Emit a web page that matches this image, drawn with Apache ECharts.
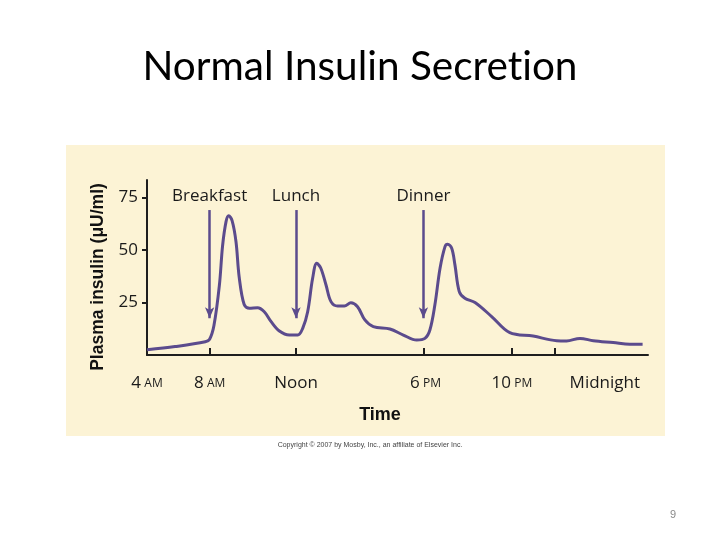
<!DOCTYPE html>
<html>
<head>
<meta charset="utf-8">
<script src="https://cdn.jsdelivr.net/npm/echarts@6/dist/echarts.min.js"></script>
<style>html,body{margin:0;padding:0;background:#fff;}#c{width:720px;height:540px;}</style>
</head>
<body>
<div id="c"></div>
<script>
// Time in hours of day (24+ = after midnight)
var timeHours = [5.1, 6.4, 7.8, 8.0, 8.2, 8.45, 8.6, 8.76, 8.88, 9.04, 9.22, 9.37, 9.6, 9.84, 10.22, 10.53, 10.84, 11.23, 11.69, 12.08, 12.31, 12.54, 12.77, 12.96, 13.15, 13.39, 13.62, 13.93, 14.24, 14.54, 14.85, 15.19, 15.58, 16.35, 16.97, 17.59, 17.97, 18.2, 18.43, 18.67, 18.9, 19.02, 19.21, 19.36, 19.56, 19.82, 20.29, 21.06, 21.9, 22.98, 24.07, 24.53, 25.15, 25.77, 26.69, 27.46, 28.05];
// Plasma insulin (µU/ml)
var insulin = [2.5, 4.0, 6.3, 7.5, 14, 33, 52, 63.5, 66.3, 64, 54, 37, 24, 22.2, 22.5, 20.6, 16, 11.4, 9.5, 9.5, 12.7, 20.6, 36.5, 43.7, 41.3, 33.3, 25.4, 23.3, 23.3, 24.9, 23, 16.7, 13.5, 12.4, 9.5, 7.1, 7.9, 11.9, 23.8, 41.3, 51.6, 52.7, 50.8, 42.9, 30.2, 27, 25, 18.3, 10.6, 9, 6.8, 6.7, 7.9, 6.8, 5.9, 5.1, 5.1];

// Axis tick positions / labels
var xTickValues = [8, 12, 17.9, 22, 24];
var xLabelValues = [5.1, 8, 12, 18, 22, 26.3];
var xLabelTexts = ['{n|4} {s|AM}', '{n|8} {s|AM}', '{n|Noon}', '{n|6} {s|PM}', '{n|10} {s|PM}', '{n|Midnight}'];
var yTickValues = [25, 50, 75];

// Meals (arrows)
var meals = ['Breakfast', 'Lunch', 'Dinner'];
var mealTimes = [8, 12, 17.9];
var arrowTop = 69;
var arrowTip = 17.5;

var purple = '#5b4b8d';
var dark = '#1e1e1e';

var chart = echarts.init(document.getElementById('c'), null, {renderer: 'canvas'});

var mealLines = mealTimes.map(function (t, i) {
  return [
    {coord: [t, arrowTop], symbol: 'none', label: {show: true, formatter: meals[i]}},
    {coord: [t, arrowTip], symbol: 'arrow', symbolSize: [7, 11]}
  ];
});

chart.setOption({
  animation: false,
  backgroundColor: '#ffffff',
  title: {
    text: 'Normal Insulin Secret\u200Cion',
    left: 'center',
    top: 41,
    textStyle: {fontFamily: 'Lato', fontWeight: 'normal', fontSize: 40.5, color: '#000'}
  },
  graphic: [
    {type: 'rect', z: -10, shape: {x: 66, y: 145, width: 599, height: 291}, style: {fill: '#fcf3d5'}},
    {type: 'text', x: 98, y: 277, rotation: Math.PI / 2,
      style: {text: 'Plasma insulin (\u03bcU/ml)', fontFamily: 'Liberation Sans', fontWeight: 'bold', fontSize: 17.5, fill: '#111', align: 'center', verticalAlign: 'middle'}},
    {type: 'text', x: 380, y: 415,
      style: {text: 'Time', fontFamily: 'Liberation Sans', fontWeight: 'bold', fontSize: 18, fill: '#111', align: 'center', verticalAlign: 'middle'}},
    {type: 'text', x: 370, y: 445,
      style: {text: 'Copyright \u00a9 2007 by Mosby, Inc., an affiliate of Elsevier Inc.', fontFamily: 'Liberation Sans', fontSize: 7, fill: '#444', align: 'center', verticalAlign: 'middle'}},
    {type: 'text', x: 673, y: 515,
      style: {text: '9', fontFamily: 'Liberation Sans', fontSize: 11, fill: '#8a8a8a', align: 'center', verticalAlign: 'middle'}}
  ],
  grid: {left: 147, right: 72, top: 180, bottom: 185, containLabel: false},
  xAxis: {
    type: 'value',
    min: 5.1,
    max: 28.3,
    splitLine: {show: false},
    axisLine: {show: true, onZero: false, lineStyle: {color: dark, width: 2}},
    axisTick: {show: true, inside: true, length: 7, customValues: xTickValues, lineStyle: {color: dark, width: 2}},
    axisLabel: {
      show: true,
      customValues: xLabelValues,
      margin: 20,
      formatter: function (v) {
        for (var i = 0; i < xLabelValues.length; i++) {
          if (Math.abs(xLabelValues[i] - v) < 1e-6) return xLabelTexts[i];
        }
        return '';
      },
      rich: {
        n: {fontFamily: 'Open Sans', fontSize: 17, color: '#1a1a1a'},
        s: {fontFamily: 'Open Sans', fontSize: 12, color: '#1a1a1a'}
      }
    }
  },
  yAxis: {
    type: 'value',
    min: 0,
    max: 83.3,
    splitLine: {show: false},
    axisLine: {show: true, lineStyle: {color: dark, width: 2}},
    axisTick: {show: true, inside: false, length: 5, customValues: yTickValues, lineStyle: {color: dark, width: 2}},
    axisLabel: {
      customValues: yTickValues,
      margin: 9,
      fontFamily: 'Open Sans',
      fontSize: 17,
      color: '#1a1a1a'
    }
  },
  series: [
    {
      type: 'line',
      data: timeHours.map(function (t, i) { return [t, insulin[i]]; }),
      smooth: 0.35,
      showSymbol: false,
      symbol: 'none',
      lineStyle: {color: purple, width: 3},
      silent: true
    },
    {
      type: 'line',
      data: [],
      silent: true,
      markLine: {
        silent: true,
        animation: false,
        symbol: ['none', 'arrow'],
        lineStyle: {color: purple, width: 2.5, type: 'solid'},
        label: {
          position: 'start',
          distance: 5,
          fontFamily: 'Open Sans',
          fontSize: 17,
          color: '#1a1a1a'
        },
        emphasis: {disabled: true},
        data: mealLines
      }
    }
  ]
});
</script>
</body>
</html>
